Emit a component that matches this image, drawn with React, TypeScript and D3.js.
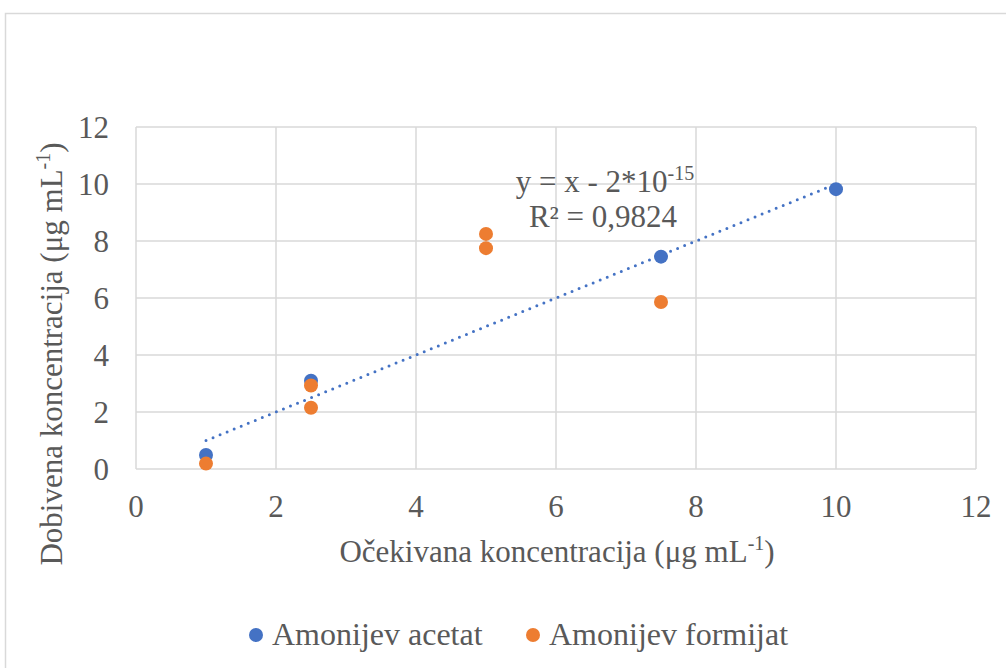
import React from "react";
import * as d3 from "d3";

const acetatX = [1, 2.5, 7.5, 10];
const acetatY = [0.49, 3.1, 7.45, 9.82];
const formijatX = [1, 2.5, 2.5, 5, 5, 7.5];
const formijatY = [0.19, 2.93, 2.15, 8.25, 7.75, 5.86];
const xTicks = [0, 2, 4, 6, 8, 10, 12];
const yTicks = [0, 2, 4, 6, 8, 10, 12];
const trendSlope = 1;
const trendIntercept = -2e-15;
const seriesNames = ["Amonijev acetat", "Amonijev formijat"];
const colors = ["#4472C4", "#ED7D31"];

const W = 1006, H = 668;
const plot = { left: 136, right: 976, top: 127, bottom: 469 };
const font = '"Liberation Serif", "Times New Roman", Tinos, "DejaVu Serif", serif';
const textColor = "#595959";
const grid = "#D9D9D9";

export default function App() {
  const x = d3.scaleLinear().domain([0, 12]).range([plot.left, plot.right]);
  const y = d3.scaleLinear().domain([0, 12]).range([plot.bottom, plot.top]);
  const tx0 = d3.min(acetatX) as number;
  const tx1 = d3.max(acetatX) as number;
  const line = d3.line<number>().x((d) => x(d)).y((d) => y(trendSlope * d + trendIntercept));
  const ts = { fontFamily: font };
  return (
    <svg width={W} height={H} style={{ position: "absolute", left: 0, top: 0, background: "#fff", fontFamily: font }}>
      <rect x={5.5} y={13.5} width={1010} height={700} fill="#fff" stroke={grid} strokeWidth={1.5} />
      {xTicks.map((t) => (
        <line key={"gx" + t} x1={x(t)} x2={x(t)} y1={plot.top} y2={plot.bottom} stroke={grid} strokeWidth={1.5} />
      ))}
      {yTicks.map((t) => (
        <line key={"gy" + t} x1={plot.left} x2={plot.right} y1={y(t)} y2={y(t)} stroke={grid} strokeWidth={1.5} />
      ))}
      {xTicks.map((t) => (
        <text key={"tx" + t} style={ts} x={x(t)} y={plot.bottom + 48} textAnchor="middle" fontSize={31} fill={textColor}>{t}</text>
      ))}
      {yTicks.map((t) => (
        <text key={"ty" + t} style={ts} x={plot.left - 27} y={y(t) + 11} textAnchor="end" fontSize={31} fill={textColor}>{t}</text>
      ))}
      <path d={line([tx0, tx1]) || ""} fill="none" stroke={colors[0]} strokeWidth={3} strokeDasharray="0 7.6" strokeLinecap="round" />
      {acetatX.map((v, i) => (
        <circle key={"a" + i} cx={x(v)} cy={y(acetatY[i])} r={7} fill={colors[0]} />
      ))}
      {formijatX.map((v, i) => (
        <circle key={"f" + i} cx={x(v)} cy={y(formijatY[i])} r={7} fill={colors[1]} />
      ))}
      <text style={ts} x={605} y={192} textAnchor="middle" fontSize={31} fill={textColor}>
        y = x - 2*10<tspan dy={-12} fontSize={20}>-15</tspan>
      </text>
      <text style={ts} x={603} y={227} textAnchor="middle" fontSize={31} fill={textColor}>R² = 0,9824</text>
      <text style={ts} x={557} y={562} textAnchor="middle" fontSize={31} fill={textColor}>
        Očekivana koncentracija (μg mL<tspan dy={-12} fontSize={20}>-1</tspan><tspan dy={12}>)</tspan>
      </text>
      <text style={ts} transform={`translate(62, 354) rotate(-90)`} textAnchor="middle" fontSize={31} fill={textColor}>
        Dobivena koncentracija (μg mL<tspan dy={-12} fontSize={20}>-1</tspan><tspan dy={12}>)</tspan>
      </text>
      {seriesNames.map((n, i) => {
        const lx = i === 0 ? 256 : 533;
        return (
          <g key={n}>
            <circle cx={lx} cy={635} r={7} fill={colors[i]} />
            <text style={ts} x={lx + 16} y={645} fontSize={32} fill={textColor}>{n}</text>
          </g>
        );
      })}
    </svg>
  );
}
